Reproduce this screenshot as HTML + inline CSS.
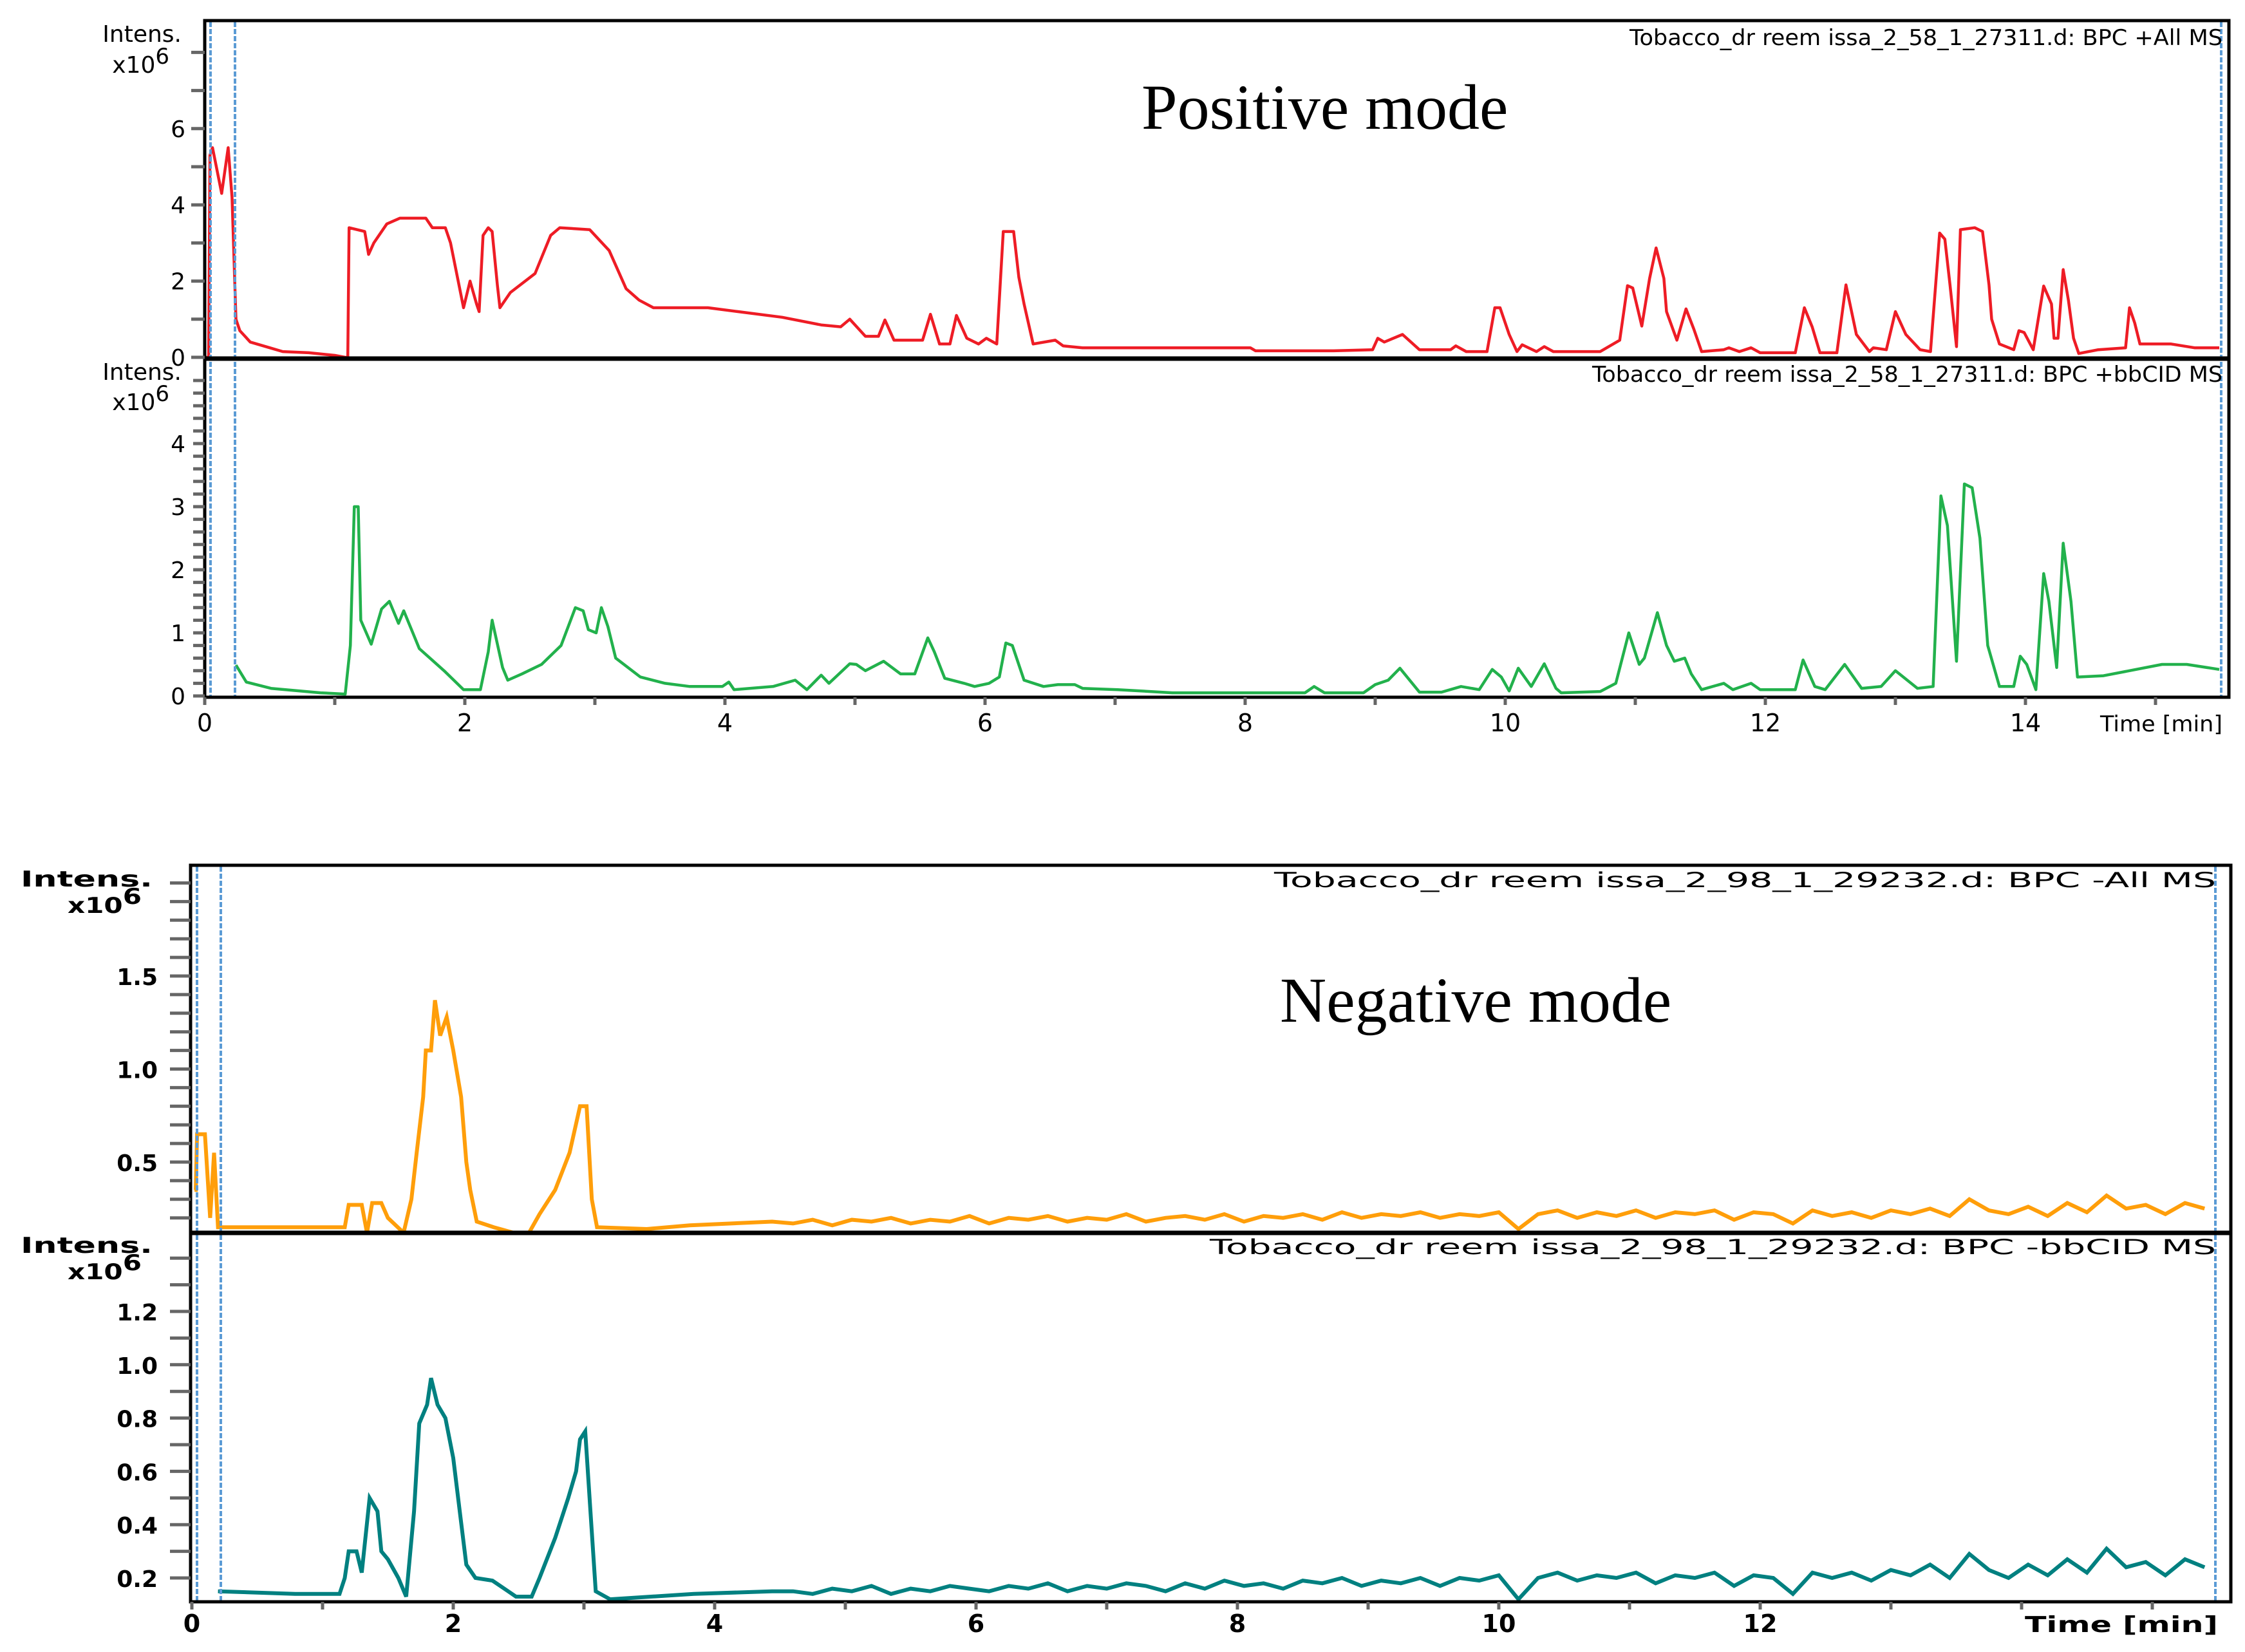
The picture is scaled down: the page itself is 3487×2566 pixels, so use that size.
<!DOCTYPE html>
<html><head><meta charset="utf-8"><style>
html,body{margin:0;padding:0;background:#fff;}
svg{display:block;}
</style></head><body>
<svg id="chart" xmlns="http://www.w3.org/2000/svg" width="3487" height="2566" viewBox="0 0 3487 2566">
<rect x="0" y="0" width="3487" height="2566" fill="#fff"/>
<defs>
<clipPath id="c1"><rect x="320" y="34" width="3140" height="521"/></clipPath>
<clipPath id="c2"><rect x="320" y="560" width="3140" height="521"/></clipPath>
<clipPath id="c3"><rect x="298" y="1346" width="3165" height="566"/></clipPath>
<clipPath id="c4"><rect x="298" y="1918" width="3165" height="568"/></clipPath>
</defs>
<g id="marks"></g>
<g id="frames"></g>
<text x="1773" y="200" font-family="Liberation Serif, serif" font-size="100">Positive mode</text>
<text x="1988" y="1587" font-family="Liberation Serif, serif" font-size="100">Negative mode</text>
<text x="2531" y="70" font-family="DejaVu Sans, sans-serif" font-size="34" textLength="921" lengthAdjust="spacingAndGlyphs">Tobacco_dr reem issa_2_58_1_27311.d: BPC +All MS</text>
<text x="2473" y="593" font-family="DejaVu Sans, sans-serif" font-size="34" textLength="979" lengthAdjust="spacingAndGlyphs">Tobacco_dr reem issa_2_58_1_27311.d: BPC +bbCID MS</text>
<text x="1979" y="1378" font-family="DejaVu Sans, sans-serif" font-size="32" textLength="1463" lengthAdjust="spacingAndGlyphs">Tobacco_dr reem issa_2_98_1_29232.d: BPC -All MS</text>
<text x="1879" y="1948" font-family="DejaVu Sans, sans-serif" font-size="32" textLength="1563" lengthAdjust="spacingAndGlyphs">Tobacco_dr reem issa_2_98_1_29232.d: BPC -bbCID MS</text>
<g font-family="DejaVu Sans, sans-serif" font-size="36" text-anchor="end">
<text x="282" y="65">Intens.</text>
<text x="263" y="113">x10<tspan dy="-14" font-size="34">6</tspan></text>
<text x="282" y="590">Intens.</text>
<text x="263" y="637">x10<tspan dy="-14" font-size="34">6</tspan></text>
<text x="3452" y="1136" font-size="34" textLength="190" lengthAdjust="spacingAndGlyphs">Time [min]</text>
</g>
<g font-family="DejaVu Sans, sans-serif" font-size="34" font-weight="bold" text-anchor="end">
<text x="237" y="1377" textLength="205" lengthAdjust="spacingAndGlyphs">Intens.</text>
<text x="220" y="1418" textLength="115" lengthAdjust="spacingAndGlyphs">x10<tspan dy="-14">6</tspan></text>
<text x="237" y="1946" textLength="205" lengthAdjust="spacingAndGlyphs">Intens.</text>
<text x="220" y="1987" textLength="115" lengthAdjust="spacingAndGlyphs">x10<tspan dy="-14">6</tspan></text>
<text x="3445" y="2535" textLength="300" lengthAdjust="spacingAndGlyphs">Time [min]</text>
</g>
<g id="ticks"></g>
</svg>
<script>
// ---- data (intensity x10^6 vs time in min) ----
const redT=[0,0.03,0.04,0.06,0.13,0.18,0.21,0.24,0.27,0.35,0.5,0.6,0.8,1.0,1.08,1.1,1.11,1.23,1.26,1.3,1.4,1.5,1.7,1.75,1.85,1.89,1.99,2.04,2.09,2.11,2.14,2.18,2.21,2.25,2.27,2.35,2.54,2.66,2.73,2.96,3.11,3.24,3.34,3.45,3.75,3.87,4.1,4.44,4.74,4.89,4.96,5.08,5.18,5.23,5.3,5.52,5.58,5.65,5.73,5.78,5.86,5.95,6.01,6.09,6.14,6.22,6.26,6.3,6.37,6.54,6.6,6.75,8.04,8.08,8.68,8.98,9.02,9.07,9.21,9.34,9.58,9.62,9.7,9.86,9.92,9.96,10.03,10.09,10.13,10.24,10.3,10.37,10.73,10.88,10.94,10.98,11.05,11.11,11.16,11.22,11.24,11.32,11.39,11.45,11.51,11.68,11.72,11.8,11.89,11.96,12.23,12.3,12.36,12.42,12.55,12.62,12.7,12.8,12.83,12.93,13.0,13.08,13.19,13.27,13.34,13.38,13.42,13.47,13.5,13.61,13.67,13.72,13.74,13.8,13.91,13.95,13.99,14.06,14.14,14.2,14.22,14.25,14.29,14.33,14.37,14.41,14.56,14.77,14.8,14.84,14.88,15.12,15.3,15.49];
const redV=[0,0,5.3,5.5,4.3,5.5,4.2,1.0,0.7,0.4,0.25,0.15,0.12,0.05,0,0,3.4,3.3,2.7,3.0,3.5,3.65,3.65,3.4,3.4,3.0,1.3,2.0,1.4,1.2,3.2,3.4,3.3,1.9,1.3,1.7,2.2,3.2,3.4,3.35,2.8,1.8,1.5,1.3,1.3,1.3,1.2,1.05,0.85,0.8,1.0,0.55,0.55,0.98,0.45,0.45,1.13,0.35,0.35,1.1,0.5,0.35,0.5,0.35,3.3,3.3,2.1,1.4,0.35,0.45,0.3,0.25,0.25,0.17,0.17,0.2,0.5,0.4,0.6,0.2,0.2,0.3,0.15,0.15,1.3,1.3,0.6,0.15,0.33,0.15,0.28,0.15,0.15,0.45,1.88,1.82,0.82,2.07,2.87,2.07,1.2,0.45,1.27,0.74,0.15,0.2,0.25,0.15,0.25,0.12,0.12,1.3,0.8,0.12,0.12,1.9,0.6,0.15,0.25,0.2,1.2,0.6,0.2,0.15,3.26,3.1,1.9,0.28,3.35,3.4,3.3,1.9,1.0,0.35,0.2,0.7,0.65,0.2,1.87,1.4,0.5,0.5,2.3,1.5,0.5,0.1,0.2,0.25,1.3,0.9,0.35,0.35,0.25,0.25];
const greenT=[0.24,0.32,0.51,0.89,1.08,1.12,1.15,1.18,1.2,1.28,1.36,1.42,1.49,1.53,1.65,1.84,1.99,2.12,2.18,2.21,2.29,2.33,2.44,2.59,2.74,2.85,2.91,2.95,3.01,3.05,3.1,3.16,3.35,3.54,3.73,3.98,4.03,4.07,4.37,4.54,4.63,4.74,4.8,4.96,5.01,5.08,5.22,5.35,5.46,5.56,5.61,5.69,5.84,5.92,6.03,6.11,6.16,6.21,6.3,6.45,6.56,6.69,6.75,7.02,7.44,8.46,8.53,8.61,8.91,9.0,9.1,9.19,9.34,9.51,9.66,9.8,9.9,9.97,10.03,10.1,10.2,10.3,10.39,10.43,10.73,10.85,10.95,11.03,11.07,11.17,11.24,11.3,11.38,11.43,11.51,11.68,11.75,11.89,11.96,12.23,12.29,12.38,12.46,12.61,12.74,12.89,13.0,13.17,13.29,13.35,13.4,13.47,13.53,13.59,13.65,13.71,13.8,13.91,13.96,14.01,14.08,14.14,14.18,14.24,14.29,14.35,14.4,14.6,15.05,15.24,15.49];
const greenV=[0.49,0.22,0.12,0.05,0.03,0.8,3.0,3.0,1.2,0.82,1.38,1.5,1.15,1.35,0.75,0.4,0.1,0.1,0.7,1.2,0.45,0.25,0.35,0.5,0.8,1.4,1.35,1.05,1.0,1.4,1.1,0.6,0.3,0.2,0.15,0.15,0.22,0.1,0.15,0.25,0.1,0.33,0.2,0.51,0.5,0.4,0.55,0.35,0.35,0.92,0.7,0.28,0.2,0.15,0.2,0.3,0.84,0.8,0.25,0.15,0.18,0.18,0.12,0.1,0.05,0.05,0.15,0.05,0.05,0.18,0.25,0.44,0.06,0.06,0.15,0.1,0.42,0.3,0.08,0.44,0.15,0.51,0.12,0.05,0.07,0.2,1.0,0.5,0.6,1.32,0.8,0.55,0.6,0.35,0.1,0.2,0.1,0.2,0.1,0.1,0.57,0.15,0.1,0.5,0.12,0.15,0.4,0.12,0.15,3.17,2.7,0.55,3.36,3.3,2.5,0.8,0.15,0.15,0.63,0.5,0.1,1.94,1.5,0.45,2.42,1.5,0.3,0.32,0.5,0.5,0.42];
const orangeT=[0.02,0.03,0.04,0.1,0.14,0.17,0.2,0.79,1.17,1.2,1.3,1.34,1.38,1.45,1.5,1.62,1.68,1.72,1.77,1.79,1.83,1.86,1.9,1.95,2.0,2.06,2.1,2.13,2.18,2.31,2.46,2.58,2.66,2.78,2.89,2.97,3.02,3.06,3.1,3.48,3.81,4.44];
const orangeV=[0.35,0.35,0.65,0.65,0.2,0.55,0.15,0.15,0.15,0.27,0.27,0.12,0.28,0.28,0.2,0.12,0.3,0.55,0.85,1.1,1.1,1.37,1.18,1.28,1.1,0.85,0.5,0.35,0.18,0.15,0.12,0.12,0.22,0.35,0.55,0.8,0.8,0.3,0.15,0.14,0.16,0.18];
const tealT=[0.2,0.79,1.13,1.17,1.2,1.26,1.3,1.36,1.42,1.45,1.5,1.58,1.64,1.7,1.74,1.8,1.83,1.88,1.94,2.0,2.05,2.1,2.17,2.3,2.42,2.48,2.6,2.66,2.78,2.88,2.94,2.97,3.01,3.05,3.09,3.2,3.84,4.44];
const tealV=[0.15,0.14,0.14,0.2,0.3,0.3,0.22,0.5,0.45,0.3,0.27,0.2,0.13,0.45,0.78,0.85,0.95,0.85,0.8,0.65,0.45,0.25,0.2,0.19,0.15,0.13,0.13,0.2,0.35,0.5,0.6,0.72,0.75,0.45,0.15,0.12,0.14,0.15];
const noiseT=[4.6,4.75,4.9,5.05,5.2,5.35,5.5,5.65,5.8,5.95,6.1,6.25,6.4,6.55,6.7,6.85,7.0,7.15,7.3,7.45,7.6,7.75,7.9,8.05,8.2,8.35,8.5,8.65,8.8,8.95,9.1,9.25,9.4,9.55,9.7,9.85,10.0,10.15,10.3,10.45,10.6,10.75,10.9,11.05,11.2,11.35,11.5,11.65,11.8,11.95,12.1,12.25,12.4,12.55,12.7,12.85,13.0,13.15,13.3,13.45,13.6,13.75,13.9,14.05,14.2,14.35,14.5,14.65,14.8,14.95,15.1,15.25,15.4];
const orangeNoiseV=[0.17,0.19,0.16,0.19,0.18,0.2,0.17,0.19,0.18,0.21,0.17,0.2,0.19,0.21,0.18,0.2,0.19,0.22,0.18,0.2,0.21,0.19,0.22,0.18,0.21,0.2,0.22,0.19,0.23,0.2,0.22,0.21,0.23,0.2,0.22,0.21,0.23,0.14,0.22,0.24,0.2,0.23,0.21,0.24,0.2,0.23,0.22,0.24,0.19,0.23,0.22,0.17,0.24,0.21,0.23,0.2,0.24,0.22,0.25,0.21,0.3,0.24,0.22,0.26,0.21,0.28,0.23,0.32,0.25,0.27,0.22,0.28,0.25];
const tealNoiseV=[0.15,0.14,0.16,0.15,0.17,0.14,0.16,0.15,0.17,0.16,0.15,0.17,0.16,0.18,0.15,0.17,0.16,0.18,0.17,0.15,0.18,0.16,0.19,0.17,0.18,0.16,0.19,0.18,0.2,0.17,0.19,0.18,0.2,0.17,0.2,0.19,0.21,0.12,0.2,0.22,0.19,0.21,0.2,0.22,0.18,0.21,0.2,0.22,0.17,0.21,0.2,0.14,0.22,0.2,0.22,0.19,0.23,0.21,0.25,0.2,0.29,0.23,0.2,0.25,0.21,0.27,0.22,0.31,0.24,0.26,0.21,0.27,0.24];
const topXTicks=[0,1,2,3,4,5,6,7,8,9,10,11,12,13,14,15];
const topXLabels=["0","2","4","6","8","10","12","14"];
const botXLabels=["0","2","4","6","8","10","12"];
const p1Labels=["0","2","4","6"];
const p2Labels=["0","1","2","3","4"];
const p3Labels=["0.5","1.0","1.5"];
const p4Labels=["0.2","0.4","0.6","0.8","1.0","1.2"];

// ---- axes ----
const xT=t=>318+202*t, y1=v=>555-59.2*v, y2=v=>1081-98*v;
const xB=t=>298+203*t, y3=v=>1805-289*(v-0.5), y4=v=>2451-414*(v-0.2);
const NS="http://www.w3.org/2000/svg";
const marks=document.getElementById('marks'), frames=document.getElementById('frames'), ticks=document.getElementById('ticks');
function mk(tag,parent,attrs){const e=document.createElementNS(NS,tag);for(const k in attrs)e.setAttribute(k,attrs[k]);parent.appendChild(e);return e;}
function pathFrom(T,V,fx,fy){return T.map((t,i)=>(i?'L':'M')+fx(t).toFixed(1)+' '+fy(V[i]).toFixed(1)).join(' ');}

let p;
p=mk('path',marks,{d:pathFrom(redT,redV,xT,y1),fill:'none',stroke:'#ee1c25','stroke-width':4.5,'stroke-linejoin':'round','clip-path':'url(#c1)'});


p=mk('path',marks,{d:pathFrom(greenT,greenV,xT,y2),fill:'none',stroke:'#22b14c','stroke-width':4.5,'stroke-linejoin':'round','clip-path':'url(#c2)'});


p=mk('path',marks,{d:pathFrom(orangeT.concat(noiseT),orangeV.concat(orangeNoiseV),xB,y3),fill:'none',stroke:'#ff9e0a','stroke-width':6,'stroke-linejoin':'miter','clip-path':'url(#c3)'});


p=mk('path',marks,{d:pathFrom(tealT.concat(noiseT),tealV.concat(tealNoiseV),xB,y4),fill:'none',stroke:'#008080','stroke-width':6,'stroke-linejoin':'miter','clip-path':'url(#c4)'});



// blue dashed markers
[[327,34,1083],[365,34,1083],[3450,34,1083],[306,1346,2488],[343,1346,2488],[3441,1346,2488]].forEach(a=>{
  const l=mk('line',frames,{x1:a[0],y1:a[1],x2:a[0],y2:a[2],stroke:'#5b9bd5','stroke-width':4,'stroke-dasharray':'8 3'});
  
  
});
// frames
let r;
r=mk('rect',frames,{x:318,y:32,width:3144,height:1051,fill:'none',stroke:'#000','stroke-width':5});


r=mk('line',frames,{x1:318,y1:557,x2:3462,y2:557,stroke:'#000','stroke-width':7});


r=mk('rect',frames,{x:296,y:1344,width:3169,height:1144,fill:'none',stroke:'#000','stroke-width':5});


r=mk('line',frames,{x1:296,y1:1915,x2:3465,y2:1915,stroke:'#000','stroke-width':7});



function tick(x1,y1_,x2,y2_){const l=mk('line',ticks,{x1:x1,y1:y1_,x2:x2,y2:y2_,stroke:'#666','stroke-width':5});
  
  }
function label(x,y,s,anchor,font,size,bold,name){const t=mk('text',ticks,{x:x,y:y,'text-anchor':anchor,'font-family':font,'font-size':size,'font-weight':bold?'bold':'normal'});t.textContent=s;
  
  }
const SANS="DejaVu Sans, sans-serif";
// panel1 y ticks
for(let v=0;v<=8;v++) tick(297,y1(v),318,y1(v));
p1Labels.forEach(s=>label(288,y1(+s)+13,s,'end',SANS,36,false,'y-tick-label-p1'));
for(let i=0;i<=25;i++){const v=i*0.2; tick(300,y2(v),318,y2(v));}
p2Labels.forEach(s=>label(288,y2(+s)+13,s,'end',SANS,36,false,'y-tick-label-p2'));
topXTicks.forEach(t=>tick(xT(t),1083,xT(t),1095));
topXLabels.forEach(s=>label(xT(+s),1136,s,'middle',SANS,38,false,'x-tick-label-top'));
// negative
for(let i=2;i<=20;i++){const v=i/10; if(y3(v)>1346) tick(264,y3(v),296,y3(v));}
p3Labels.forEach(s=>label(245,y3(+s)+14,s,'end',SANS,36,true,'y-tick-label-p3'));
for(let i=2;i<=14;i++){const v=i/10; tick(264,y4(v),296,y4(v));}
p4Labels.forEach(s=>label(245,y4(+s)+14,s,'end',SANS,36,true,'y-tick-label-p4'));
topXTicks.forEach(t=>tick(xB(t),2488,xB(t),2500));
botXLabels.forEach(s=>label(xB(+s),2535,s,'middle',SANS,38,true,'x-tick-label-bottom'));
</script>
</body></html>
